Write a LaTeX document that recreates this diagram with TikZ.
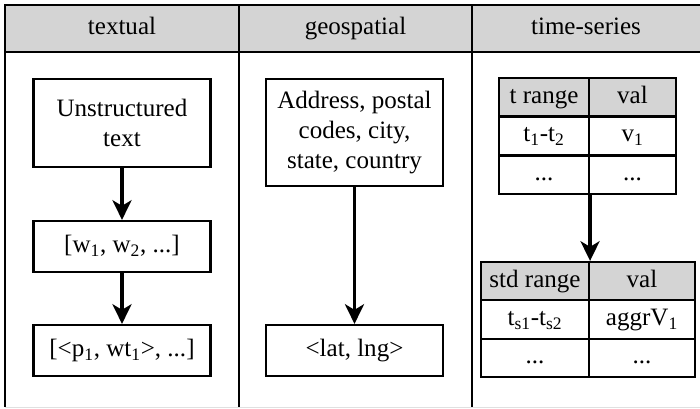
\documentclass[tikz,border=0pt]{standalone}
\usepackage{fontspec}
\setmainfont{Liberation Serif}
\usetikzlibrary{arrows.meta}
\tikzset{
	txt/.style={font=\fontsize{17.8}{21.3}\selectfont},
	oneline/.style={text height=12.5pt, text depth=4pt},
	box/.style={txt, draw, line width=1.5pt, align=center, inner sep=0pt, minimum width=4.425cm},
	cell/.style={txt, oneline, draw, line width=1.5pt, inner sep=0pt, minimum height=0.96cm},
	head/.style={cell, fill=black!17},
	flow/.style={line width=2.6pt, -{Stealth[length=14pt,width=13.5pt,inset=4pt]}}
}

\begin{document}
\begin{tikzpicture}[x=0.025cm, y=-0.025cm]
		%%%%% START %%%%%
		\useasboundingbox (0, 0) rectangle (700, 409);
		
		\fill[black!17] (5, 5) rectangle (700, 52);
		\draw[line width=0.6pt, color=black!12] (5, 407) -- (700, 407);
		\draw[line width=1.5pt] (700, 5) -- (5, 5) -- (5, 407);
		\draw[line width=1.5pt] (5, 52) -- (700, 52);
		\draw[line width=1.5pt] (239, 5) -- (239, 407);
		\draw[line width=1.5pt] (472, 5) -- (472, 407);
		
		\node[txt, oneline] (htext) at (122, 29) {textual};
		\node[txt, oneline] (hgeo) at (355.5, 29) {geospatial};
		\node[txt, oneline] (htime) at (586, 29) {time-series};
		
		% textual
		\node[box, minimum height=2.2cm] (raw) at (122, 123) {Unstructured\\text};
		\node[box, oneline, minimum height=1.275cm] (words) at (122, 246.5) {[w\textsubscript{1}, w\textsubscript{2}, ...]};
		\node[box, oneline, minimum height=1.275cm] (pairs) at (122, 350.5) {[<p\textsubscript{1}, wt\textsubscript{1}>, ...]};
		\draw[flow] (raw) -- (words);
		\draw[flow] (words) -- (pairs);
		
		% geospatial
		\node[box, minimum height=2.675cm] (addr) at (354.5, 132.5) {Address, postal\\codes, city,\\state, country};
		\node[box, oneline, minimum height=1.275cm] (latlng) at (354.5, 350.5) {<lat, lng>};
		\draw[flow] (addr) -- (latlng);
		
		% time-series
		\node[head, minimum width=2.25cm] (ta11) at (544, 97.3) {t range};
		\node[head, minimum width=2.175cm] (ta12) at (632.5, 97.3) {val};
		\node[cell, minimum width=2.25cm] (ta21) at (544, 136) {t\textsubscript{1}-t\textsubscript{2}};
		\node[cell, minimum width=2.175cm] (ta22) at (632.5, 136) {v\textsubscript{1}};
		\node[cell, minimum width=2.25cm] (ta31) at (544, 174.7) {...};
		\node[cell, minimum width=2.175cm] (ta32) at (632.5, 174.7) {...};
		
		\node[head, minimum width=2.7cm] (tb11) at (535, 281.2) {std range};
		\node[head, minimum width=2.65cm] (tb12) at (642, 281.2) {val};
		\node[cell, minimum width=2.7cm] (tb21) at (535, 319.5) {t\textsubscript{s1}-t\textsubscript{s2}};
		\node[cell, minimum width=2.65cm] (tb22) at (642, 319.5) {aggrV\textsubscript{1}};
		\node[cell, minimum width=2.7cm] (tb31) at (535, 357.8) {...};
		\node[cell, minimum width=2.65cm] (tb32) at (642, 357.8) {...};
		
		\draw[flow] (ta31.south east) -- (tb11.north east);
		%%%%% END %%%%%
	\end{tikzpicture}
\end{document}
